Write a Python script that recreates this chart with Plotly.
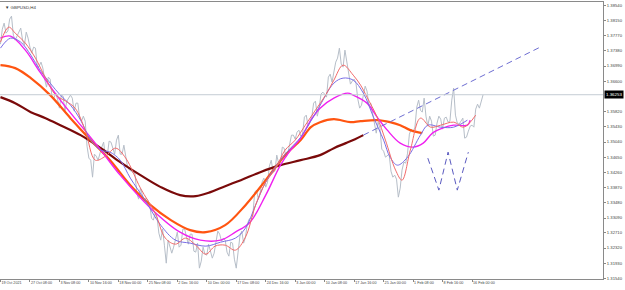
import plotly.graph_objects as go

# ---------------- data ----------------
# gray close line, read every 2 H4 bars:
# close_a -> bars 0, 4, 8, ... ; close_b -> bars 2, 6, 10, ...
close_a = [
    1.37551, 1.38090, 1.37885, 1.38269, 1.37654, 1.37885, 1.37654, 1.37859, 1.37474, 1.37474,
    1.36961, 1.37089, 1.36653, 1.36704, 1.36191, 1.36294, 1.35909, 1.36217, 1.36088, 1.36242,
    1.35832, 1.36037, 1.35575, 1.35575, 1.34626, 1.34138, 1.34677, 1.34780, 1.35036, 1.34703,
    1.35036, 1.34728, 1.35216, 1.34728, 1.34703, 1.34318, 1.34241, 1.33728, 1.33856, 1.33522,
    1.33548, 1.33086, 1.33214, 1.32701, 1.32804, 1.31931, 1.32368, 1.32342, 1.32727, 1.32393,
    1.32804, 1.32419, 1.32676, 1.32214, 1.31803, 1.32342, 1.32137, 1.32265, 1.32188, 1.32753,
    1.32496, 1.32522, 1.32111, 1.32445, 1.31803, 1.32624, 1.32445, 1.32932, 1.33112, 1.33753,
    1.33574, 1.34010, 1.33882, 1.34420, 1.34266, 1.34703, 1.34497, 1.34882, 1.34754, 1.35216,
    1.35113, 1.35344, 1.35242, 1.35729, 1.35575, 1.36037, 1.35703, 1.36268, 1.36268, 1.36704,
    1.36576, 1.37089, 1.37448, 1.36961, 1.37140, 1.36525, 1.36653, 1.36140, 1.35986, 1.36473,
    1.35986, 1.35780, 1.35267, 1.35396, 1.34805, 1.34703, 1.34292, 1.34189, 1.33625, 1.34318,
    1.34497, 1.35242, 1.35293, 1.35934, 1.35857, 1.36165, 1.35447, 1.35575, 1.35216, 1.35703,
    1.35370, 1.35678, 1.35575, 1.36422, 1.35524, 1.35575, 1.35139, 1.35319, 1.35472, 1.35883,
    1.35909, 1.36253,
]
close_b = [
    1.37936, 1.37833, 1.38192, 1.37782, 1.37756, 1.37962, 1.37525, 1.37705, 1.37320, 1.37448,
    1.36986, 1.36935, 1.36448, 1.36653, 1.36165, 1.36140, 1.36242, 1.35832, 1.36165, 1.36165,
    1.36037, 1.35652, 1.35703, 1.34934, 1.34574, 1.34728, 1.34574, 1.34908, 1.34651, 1.35062,
    1.34882, 1.35088, 1.34728, 1.34959, 1.34395, 1.34292, 1.34241, 1.33574, 1.33651, 1.33599,
    1.33445, 1.33035, 1.33112, 1.32522, 1.32393, 1.32522, 1.32188, 1.32522, 1.32342, 1.32804,
    1.32599, 1.32676, 1.32239, 1.32445, 1.31983, 1.32162, 1.32419, 1.32060, 1.32522, 1.32676,
    1.32573, 1.32214, 1.32470, 1.32034, 1.32214, 1.32753, 1.32599, 1.33060, 1.33137, 1.33805,
    1.33753, 1.34113, 1.34010, 1.34574, 1.34292, 1.34497, 1.34908, 1.34651, 1.35036, 1.35216,
    1.35293, 1.35190, 1.35678, 1.35447, 1.35678, 1.36088, 1.35909, 1.36319, 1.36191, 1.36781,
    1.36807, 1.37192, 1.37038, 1.37397, 1.36781, 1.36602, 1.36550, 1.35909, 1.36242, 1.36345,
    1.36037, 1.35498, 1.35549, 1.34857, 1.34651, 1.34728, 1.34138, 1.34087, 1.33856, 1.34523,
    1.34754, 1.35370, 1.35421, 1.36114, 1.35806, 1.35703, 1.35703, 1.35190, 1.35524, 1.35626,
    1.35652, 1.35549, 1.36114, 1.35729, 1.35498, 1.35652, 1.35165, 1.35447, 1.35421, 1.36011,
    1.36063,
]

ma_red_bars = [0, 9, 16, 27, 38, 49, 60, 71, 81, 92, 103, 114, 125, 136, 152, 168, 179, 190, 201, 212,
               223, 233, 244, 255, 266, 277, 288, 299, 309, 320, 331, 342, 353, 362, 372, 383, 391, 398,
               409, 418, 429, 436, 445, 456, 467, 478, 492, 503, 516]
ma_red_vals = [1.37602, 1.37987, 1.37833, 1.37577, 1.37192, 1.36679, 1.36242, 1.36088, 1.35909, 1.35344,
               1.34574, 1.34677, 1.34882, 1.34626, 1.33856, 1.33214, 1.32573, 1.32419, 1.32573, 1.32393,
               1.32162, 1.32368, 1.32393, 1.32265, 1.32599, 1.33420, 1.34010, 1.34369, 1.34831, 1.35088,
               1.35472, 1.35857, 1.36242, 1.36627, 1.37012, 1.36755, 1.36499, 1.36191, 1.35678, 1.35088,
               1.34318, 1.34061, 1.34831, 1.35652, 1.35421, 1.35472, 1.35549, 1.35421, 1.35729]

ma_blue_bars = [0, 11, 22, 33, 43, 54, 65, 76, 87, 98, 109, 119, 130, 141, 157, 174, 190, 206, 223, 239,
                255, 266, 277, 288, 304, 315, 326, 344, 362, 372, 383, 394, 405, 416, 423, 431, 442, 456,
                464, 478, 492, 507]
ma_blue_vals = [1.37448, 1.37705, 1.37602, 1.37269, 1.36884, 1.36550, 1.36242, 1.35986, 1.35601, 1.35088,
                1.34831, 1.34780, 1.34574, 1.34113, 1.33548, 1.32906, 1.32522, 1.32445, 1.32368, 1.32470,
                1.32573, 1.32830, 1.33420, 1.34010, 1.34574, 1.34882, 1.35165, 1.35857, 1.36550, 1.36679,
                1.36627, 1.36294, 1.35678, 1.35088, 1.34651, 1.34446, 1.34651, 1.35216, 1.35472, 1.35421,
                1.35421, 1.35601]

ma_magenta_bars = [0, 11, 27, 43, 65, 87, 109, 130, 163, 195, 217, 239, 255, 271, 288, 304, 315, 326, 337,
                   347, 362, 377, 383, 398, 409, 420, 434, 448, 459, 469, 480, 492, 507, 510]
ma_magenta_vals = [1.37705, 1.37756, 1.37397, 1.36832, 1.36114, 1.35472, 1.34831, 1.34189, 1.33343,
                   1.32727, 1.32522, 1.32522, 1.32727, 1.32983, 1.33676, 1.34446, 1.34831, 1.35139,
                   1.35601, 1.35909, 1.36165, 1.36294, 1.36242, 1.36037, 1.35678, 1.35344, 1.35011,
                   1.34908, 1.35011, 1.35267, 1.35396, 1.35472, 1.35472, 1.35601]

ma_orange_bars = [0, 16, 33, 54, 76, 98, 119, 141, 163, 185, 206, 223, 244, 266, 288, 309, 326, 337, 347,
                  362, 380, 391, 409, 423, 434, 445, 458]
ma_orange_vals = [1.37012, 1.36935, 1.36679, 1.36242, 1.35652, 1.35088, 1.34574, 1.33933, 1.33420,
                  1.33035, 1.32778, 1.32727, 1.32906, 1.33420, 1.34061, 1.34703, 1.35088, 1.35421,
                  1.35549, 1.35626, 1.35549, 1.35575, 1.35601, 1.35549, 1.35472, 1.35344, 1.35267]

ma_darkred_bars = [0, 16, 33, 49, 65, 87, 109, 130, 152, 174, 195, 212, 228, 244, 261, 282, 304, 326, 347,
                   362, 375, 385, 394]
ma_darkred_vals = [1.36191, 1.36037, 1.35806, 1.35652, 1.35472, 1.35216, 1.34882, 1.34523, 1.34189,
                   1.33882, 1.33676, 1.33651, 1.33753, 1.33907, 1.34061, 1.34266, 1.34446, 1.34574,
                   1.34703, 1.34882, 1.35011, 1.35113, 1.35216]

trend_bars = [394, 586]
trend_vals = [1.35216, 1.37474]

w_bars = [464, 476, 486, 496, 508]
w_vals = [1.34626, 1.33805, 1.34780, 1.33805, 1.34780]

current_price = 1.36253
current_label = "1.36253"

x_tick_bars = [32 * i for i in range(17)]
x_tick_labels = ["19 Oct 2021", "27 Oct 08:00", "3 Nov 08:00", "10 Nov 16:00", "18 Nov 00:00",
                 "25 Nov 08:00", "2 Dec 16:00", "10 Dec 00:00", "17 Dec 08:00", "24 Dec 16:00",
                 "3 Jan 00:00", "10 Jan 08:00", "17 Jan 16:00", "25 Jan 00:00", "1 Feb 08:00",
                 "8 Feb 16:00", "16 Feb 00:00"]
y_tick_labels = ["1.31540", "1.31930", "1.32320", "1.32710", "1.33090", "1.33480", "1.33870", "1.34260",
                 "1.34650", "1.35040", "1.35430", "1.35820", "1.36600", "1.36990", "1.37380",
                 "1.37770", "1.38150", "1.38540"]
y_tick_vals = [float(s) for s in y_tick_labels]

# merge the two gray readings in bar order
close_bars, close_vals = [], []
for i, v in enumerate(close_a):
    close_bars.append(4 * i)
    close_vals.append(v)
    if i < len(close_b):
        close_bars.append(4 * i + 2)
        close_vals.append(close_b[i])

FONT = "Liberation Sans"

# ---------------- figure ----------------
fig = go.Figure()

fig.add_trace(go.Scatter(x=close_bars, y=close_vals, mode="lines",
                         line=dict(color="#b6bec8", width=1)))
fig.add_trace(go.Scatter(x=ma_darkred_bars, y=ma_darkred_vals, mode="lines", line_shape="spline",
                         line=dict(color="#7a0a0a", width=2.2)))
fig.add_trace(go.Scatter(x=ma_orange_bars, y=ma_orange_vals, mode="lines", line_shape="spline",
                         line=dict(color="#ff5511", width=2.2)))
fig.add_trace(go.Scatter(x=ma_magenta_bars, y=ma_magenta_vals, mode="lines", line_shape="spline",
                         line=dict(color="#f020f0", width=1.4)))
fig.add_trace(go.Scatter(x=ma_blue_bars, y=ma_blue_vals, mode="lines", line_shape="spline",
                         line=dict(color="#7a6ee6", width=1)))
fig.add_trace(go.Scatter(x=ma_red_bars, y=ma_red_vals, mode="lines", line_shape="spline",
                         line=dict(color="#f26a6a", width=1)))
fig.add_trace(go.Scatter(x=trend_bars, y=trend_vals, mode="lines",
                         line=dict(color="#6e6ed2", width=1, dash="6px,4px")))
fig.add_trace(go.Scatter(x=w_bars, y=w_vals, mode="lines",
                         line=dict(color="#5a5ac0", width=1, dash="6px,4px")))

fig.add_hline(y=current_price, line=dict(color="#c4ccd4", width=1))

fig.add_annotation(xref="paper", yref="y", x=1, y=current_price, text=current_label,
                   showarrow=False, xanchor="left", yanchor="middle", xshift=1,
                   bgcolor="#000000", font=dict(color="#ffffff", size=4.4, family=FONT),
                   borderpad=1)
fig.add_annotation(xref="paper", yref="paper", x=0.005, y=0.995, text="▼ GBPUSD,H4",
                   showarrow=False, xanchor="left", yanchor="top",
                   font=dict(color="#333333", size=4.4, family=FONT))

fig.update_layout(
    width=625, height=290,
    margin=dict(l=0, r=22, t=2, b=11, autoexpand=False),
    paper_bgcolor="#ffffff", plot_bgcolor="#ffffff",
    showlegend=False,
    font=dict(family=FONT, size=4.2, color="#444444"),
)
fig.update_xaxes(range=[-0.5, 654.2], tickvals=x_tick_bars, ticktext=x_tick_labels,
                 tickangle=0, automargin=False,
                 ticks="outside", ticklen=2, tickcolor="#888888",
                 ticklabelposition="outside right",
                 showgrid=False, zeroline=False, showline=True, linecolor="#8a8a8a",
                 linewidth=1, mirror=True, tickfont=dict(size=3.7, color="#444444", family=FONT))
fig.update_yaxes(range=[1.31525, 1.38632], side="right", tickvals=y_tick_vals,
                 ticktext=y_tick_labels, ticks="outside", ticklen=2, tickcolor="#888888",
                 automargin=False,
                 showgrid=False, zeroline=False, showline=True, linecolor="#8a8a8a",
                 linewidth=1, mirror=True, tickfont=dict(size=4.2, color="#444444", family=FONT))

fig.write_html("out.html")
